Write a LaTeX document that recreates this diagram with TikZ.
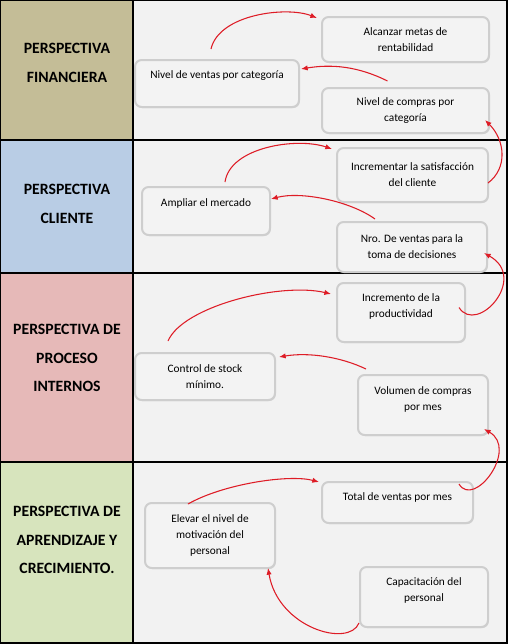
\documentclass[tikz,border=0pt]{standalone}
\usepackage{fontspec}
\setmainfont{Carlito}
\usepackage{tikz}
\usetikzlibrary{arrows.meta,calc,shadows}
\definecolor{finan}{RGB}{196,189,151}
\definecolor{clien}{RGB}{185,205,229}
\definecolor{proce}{RGB}{230,185,184}
\definecolor{apren}{RGB}{215,228,189}
\definecolor{fondo}{RGB}{242,242,242}
\definecolor{boxfill}{RGB}{243,243,243}
\definecolor{boxline}{RGB}{206,206,206}
\definecolor{rojo}{RGB}{222,28,38}
\newcommand{\subir}[2]{\raisebox{#1}[\height][\depth]{#2}}

\begin{document}
\begin{tikzpicture}[x=0.75pt,y=-0.75pt,
   caja/.style 2 args={draw=boxline,fill=boxfill,line width=1.5pt,rounded corners=5pt,
              minimum width=#1*0.75pt,minimum height=#2*0.75pt,align=center,
              font=\fontsize{8.5}{12}\selectfont,
              drop shadow={shadow xshift=0.6pt,shadow yshift=-0.8pt,opacity=0.25}},
   tit/.style={align=center,font=\fontsize{11.8}{21.4}\selectfont\bfseries},
   flecha/.style={-{Latex[length=5pt,width=4pt]},draw=rojo,line width=0.8pt}]
  \useasboundingbox (0,0) rectangle (508,644);
  \fill[finan] (0,0) rectangle (133,140);
  \fill[clien] (0,140) rectangle (133,273);
  \fill[proce] (0,273) rectangle (133,462);
  \fill[apren] (0,462) rectangle (133,643);
  \fill[fondo] (133,0) rectangle (507,643);
  \draw[line width=1pt] (0.5,0.5) rectangle (507,643);
  \draw[line width=1pt] (133,0.5) -- (133,643);
  \draw[line width=1pt] (0.5,140) -- (507,140) (0.5,273) -- (507,273) (0.5,462) -- (507,462);

  \node[tit] (hfin) at (67,63)  {PERSPECTIVA\\FINANCIERA};
  \node[tit] (hcli) at (67,204) {PERSPECTIVA\\CLIENTE};
  \node[tit] (hpro) at (67,358) {PERSPECTIVA DE\\PROCESO\\INTERNOS};
  \node[tit] (hapr) at (67,540) {PERSPECTIVA DE\\APRENDIZAJE Y\\CRECIMIENTO.};

  \node[caja={167}{45}] (metas)   at (405.5,39.5) {Alcanzar metas de\\rentabilidad};
  \node[caja={164}{47}] (ventas)  at (217,83.5)   {\subir{6pt}{Nivel de ventas por categoría}};
  \node[caja={167}{45}] (compras) at (405.5,110.5) {Nivel de compras por\\categoría};

  \node[caja={151}{54}] (satisf)  at (412.5,175)  {Incrementar la satisfacción\\del cliente};
  \node[caja={128}{48}] (mercado) at (206,211)    {\subir{6pt}{Ampliar el mercado}};
  \node[caja={150}{50}] (nro)     at (412,247)    {Nro. De ventas para la\\toma de decisiones};

  \node[caja={128}{59}] (product) at (401,312.5)  {\subir{5pt}{\begin{tabular}{@{}c@{}}Incremento de la\\productividad\end{tabular}}};
  \node[caja={140}{47}] (stock)   at (205,376.5)  {Control de stock\\mínimo.};
  \node[caja={130}{60}] (volumen) at (423,405)    {\subir{4pt}{\begin{tabular}{@{}c@{}}Volumen de compras\\por mes\end{tabular}}};

  \node[caja={151}{41}] (total)   at (397.5,502.5) {\subir{4pt}{Total de ventas por mes}};
  \node[caja={130}{65}] (motiv)   at (210,535.5)   {Elevar el nivel de\\motivación del\\personal};
  \node[caja={128}{60}] (capac)   at (424,597)     {\subir{5pt}{\begin{tabular}{@{}c@{}}Capacitación del\\personal\end{tabular}}};

  \draw[flecha] ($(ventas.north)+(-6,-10)$) .. controls +(8,-35) and +(-30,-12) .. ($(metas.north west)+(-4,2)$);
  \draw[flecha] ($(compras.north)+(-18,-6)$) .. controls +(-30,-15) and +(30,-5) .. ($(ventas.north east)+(1,10)$);
  \draw[flecha] ($(satisf.east)+(-1,8)$) .. controls +(20,-15) and +(20,20) .. ($(compras.south east)+(-5,-14)$);

  \draw[flecha] ($(mercado.north)+(19,-4)$) .. controls +(5,-35) and +(-35,-12) .. ($(satisf.north west)+(-4,2)$);
  \draw[flecha] ($(nro.north)+(-37,-2)$) .. controls +(-25,-18) and +(30,-8) .. ($(mercado.north east)+(0,13)$);
  \draw[flecha] ($(product.east)+(-7,-5)$) .. controls +(18,28) and +(45,25) .. ($(nro.south east)+(-4,-20)$);

  \draw[flecha] ($(stock.north)+(-37,-11)$) .. controls +(15,-35) and +(-50,-12) .. ($(product.north west)+(-5,12)$);
  \draw[flecha] ($(volumen.north west)+(9,-5)$) .. controls +(-25,-12) and +(30,-5) .. ($(stock.north east)+(3,5)$);
  \draw[flecha] ($(total.north east)+(-15,3)$) .. controls +(15,25) and +(35,20) .. ($(volumen.south east)+(-5,-7)$);

  \draw[flecha] ($(motiv.north)+(-22,2)$) .. controls +(35,-20) and +(-30,-8) .. ($(total.north west)+(-2,1)$);
  \draw[flecha] ($(capac.south west)+(0,-5)$) .. controls +(-10,25) and +(10,60) .. ($(motiv.south east)+(-8,-1)$);
\end{tikzpicture}
\end{document}
